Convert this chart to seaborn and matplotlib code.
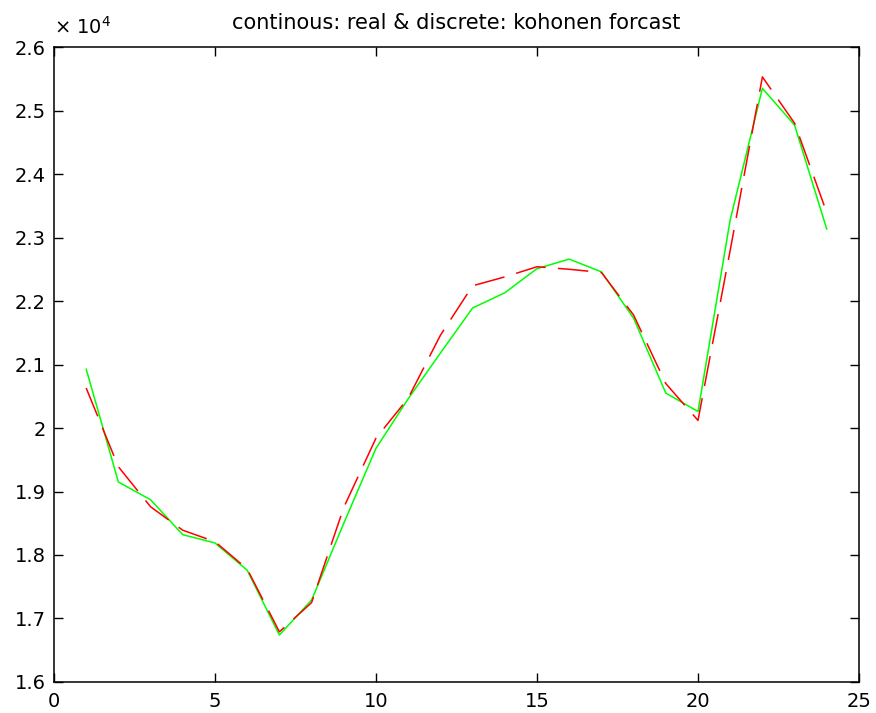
import numpy as np
import pandas as pd
import matplotlib
matplotlib.use("Agg")
import matplotlib.pyplot as plt
import seaborn as sns
from matplotlib.ticker import FuncFormatter, MultipleLocator

# datos
t = list(range(1, 25))
real = [20930, 19150, 18870, 18320, 18190, 17760, 16740, 17290, 18500, 19680,
        20460, 21180, 21890, 22130, 22510, 22660, 22460, 21730, 20550, 20260,
        23280, 25350, 24770, 23130]
kohonen = [20630, 19390, 18760, 18390, 18210, 17780, 16790, 17250, 18750, 19840,
           20470, 21460, 22240, 22380, 22540, 22500, 22450, 21780, 20700, 20120,
           22800, 25530, 24800, 23390]

df = pd.DataFrame({"t": t, "real": real, "kohonen": kohonen})

sns.set_style("ticks")
plt.rcParams['font.family'] = ['DejaVu Sans']
plt.rcParams['text.color'] = 'black'

fig = plt.figure(figsize=(8.76, 7.13), dpi=100)
ax = fig.add_axes([0.0616, 0.0435, 0.919, 0.8905])

sns.lineplot(data=df, x="t", y="real", ax=ax, color=(0, 1, 0), linewidth=1.1)
sns.lineplot(data=df, x="t", y="kohonen", ax=ax, color=(1, 0, 0), linewidth=1.1,
             linestyle=(0, (20, 8)))

ax.set_xlim(0, 25)
ax.set_ylim(16000, 26000)
ax.xaxis.set_major_locator(MultipleLocator(5))
ax.yaxis.set_major_locator(MultipleLocator(1000))
ax.yaxis.set_major_formatter(FuncFormatter(lambda v, p: f"{v/1e4:g}"))
ax.set_xlabel("")
ax.set_ylabel("")

for s in ax.spines.values():
    s.set_visible(True)
    s.set_linewidth(1.1)
    s.set_color("black")
ax.tick_params(direction="in", length=6.5, width=1, top=True, right=True,
               labelsize=14, colors="black")
ax.tick_params(axis="y", pad=6)
ax.tick_params(axis="x", pad=7)

ax.text(0.0, 1.014, r"$\times$ 10$^4$", transform=ax.transAxes, fontsize=14,
        ha="left", va="bottom", color="black")
ax.set_title("continous: real & discrete: kohonen forcast", fontsize=15,
             pad=13, color="black")

fig.savefig("out.png", dpi=100)
